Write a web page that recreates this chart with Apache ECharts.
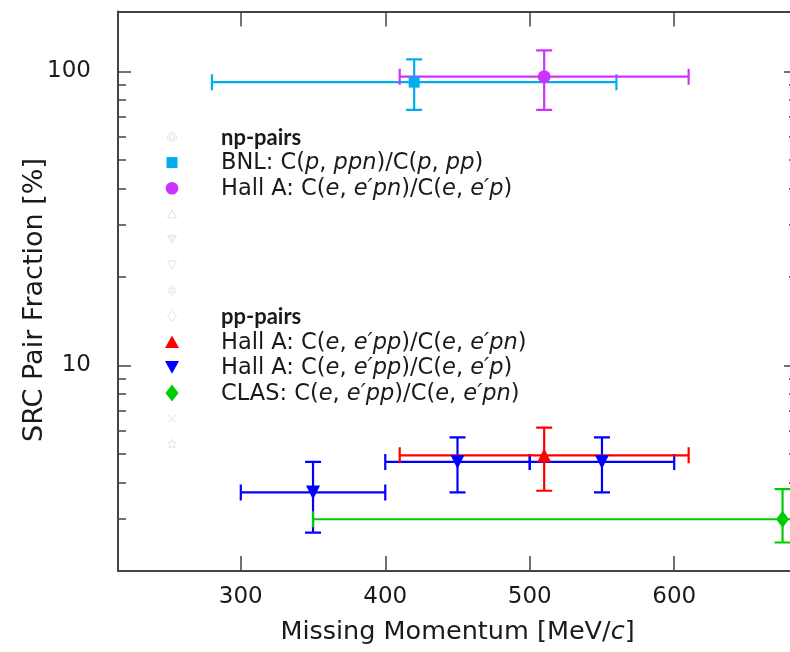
<!DOCTYPE html>
<html>
<head>
<meta charset="utf-8">
<script src="https://cdn.jsdelivr.net/npm/echarts@6/dist/echarts.min.js"></script>
<style>
  html, body { margin: 0; padding: 0; background: #ffffff; }
  #chart { width: 790px; height: 652px; }
</style>
</head>
<body>
<div id="chart"></div>
<script>
// SRC pair fractions (%) versus missing momentum (MeV/c), with x and y error ranges.
const bnlX = [420],  bnlY = [92],   bnlXLo = [280],  bnlXHi = [560],  bnlYLo = [74],   bnlYHi = [110];
const npX  = [510],  npY  = [96],   npXLo  = [410],  npXHi  = [610],  npYLo  = [74],   npYHi  = [118];
const ppnX = [510],  ppnY = [4.95], ppnXLo = [410],  ppnXHi = [610],  ppnYLo = [3.75], ppnYHi = [6.15];
const pppX = [350, 450, 550], pppY = [3.7, 4.7, 4.7];
const pppXLo = [300, 400, 500], pppXHi = [400, 500, 600];
const pppYLo = [2.7, 3.7, 3.7], pppYHi = [4.7, 5.7, 5.7];
const clasX = [675], clasY = [3.0], clasXLo = [350], clasXHi = [1000], clasYLo = [2.5], clasYHi = [3.8];

// Axis ticks
const xTicks = [300, 400, 500, 600];
const yMajor = [10, 100];
const yMinor = [3, 4, 5, 6, 7, 8, 9, 20, 30, 40, 50, 60, 70, 80, 90];

// Axis titles
const xTitle = 'Missing Momentum [MeV/{i|c}]';
const yTitle = 'SRC Pair Fraction [%]';

// Legend entries (rich text: {i|..} is italic, {b|..} is bold)
const legendRows = [
  { row: 0,  text: '{b|np-pairs}' },
  { row: 1,  text: 'BNL: C({i|p}, {i|ppn})/C({i|p}, {i|pp})' },
  { row: 2,  text: 'Hall A: C({i|e}, {i|e′pn})/C({i|e}, {i|e′p})' },
  { row: 7,  text: '{b|pp-pairs}' },
  { row: 8,  text: 'Hall A: C({i|e}, {i|e′pp})/C({i|e}, {i|e′pn})' },
  { row: 9,  text: 'Hall A: C({i|e}, {i|e′pp})/C({i|e}, {i|e′p})' },
  { row: 10, text: 'CLAS: C({i|e}, {i|e′pp})/C({i|e}, {i|e′pn})' }
];

const FONT = 'DejaVu Sans';
const BOLD_FONT = 'Lato';
const TXT = '#1a1a1a';
const LEG_FS = 22.5, TITLE_FS = 25.5, TICK_FS = 23;
const C_BNL = '#00AEEF', C_NP = '#CC33FF', C_PPN = '#FF0000', C_PPP = '#0000FF', C_CLAS = '#00CC00';

function rows(x, y, xl, xh, yl, yh) {
  return x.map((v, k) => [v, y[k], xl[k], xh[k], yl[k], yh[k]]);
}

function errorBars(name, color, data) {
  return {
    name: name + ' err',
    type: 'custom',
    clip: true,
    silent: true,
    data: data,
    encode: { x: 0, y: 1 },
    renderItem: function (params, api) {
      const x = api.value(0), y = api.value(1);
      const pl = api.coord([api.value(2), y]);
      const pr = api.coord([api.value(3), y]);
      const pb = api.coord([x, api.value(4)]);
      const pt = api.coord([x, api.value(5)]);
      const cap = 8;
      const st = { stroke: color, lineWidth: 2.2, fill: null };
      const seg = (x1, y1, x2, y2) => ({ type: 'line', shape: { x1, y1, x2, y2 }, style: st });
      return {
        type: 'group',
        children: [
          seg(pl[0], pl[1], pr[0], pr[1]),
          seg(pb[0], pb[1], pt[0], pt[1]),
          seg(pl[0], pl[1] - cap, pl[0], pl[1] + cap),
          seg(pr[0], pr[1] - cap, pr[0], pr[1] + cap),
          seg(pb[0] - cap, pb[1], pb[0] + cap, pb[1]),
          seg(pt[0] - cap, pt[1], pt[0] + cap, pt[1])
        ]
      };
    }
  };
}

function points(name, color, x, y, symbol, size, rotate) {
  return {
    name: name,
    type: 'scatter',
    symbol: symbol,
    symbolSize: size,
    symbolRotate: rotate || 0,
    itemStyle: { color: color, opacity: 1 },
    data: x.map((v, k) => [v, y[k]])
  };
}

const axisLineStyle = { color: '#444', width: 2 };
const tickStyle = { color: '#444', width: 1.5 };

function xAxisDef(pos, showLabels) {
  return {
    type: 'value', position: pos, min: 215, max: 685,
    axisLine: { show: true, onZero: false, lineStyle: axisLineStyle },
    axisTick: { show: true, inside: true, length: 15, lineStyle: tickStyle, customValues: xTicks },
    axisLabel: { show: showLabels, customValues: xTicks, margin: 15,
                 fontFamily: FONT, fontSize: TICK_FS, color: TXT },
    splitLine: { show: false },
    name: showLabels ? xTitle : '',
    nameLocation: 'middle', nameGap: 48,
    nameTextStyle: { fontFamily: FONT, fontSize: TITLE_FS, color: TXT,
                     rich: { i: { fontFamily: FONT, fontSize: TITLE_FS, fontStyle: 'italic', color: TXT } } }
  };
}

function yAxisDef(pos, ticks, len, major, labels) {
  return {
    type: 'log', logBase: 10, position: pos, min: 2, max: 160,
    axisLine: { show: major, onZero: false, lineStyle: axisLineStyle },
    axisTick: { show: true, inside: true, length: len, lineStyle: tickStyle, customValues: ticks },
    axisLabel: { show: labels, customValues: ticks, margin: 27,
                 fontFamily: FONT, fontSize: TICK_FS, color: TXT },
    splitLine: { show: false },
    minorTick: { show: false }
  };
}

// Legend drawing
const LEG_MX = 172, LEG_TX = 221, LEG_Y0 = 137, LEG_DY = 25.6;
const faint = { stroke: '#e4e4e4', fill: null, lineWidth: 1 };
function rowY(r) { return LEG_Y0 + LEG_DY * r; }
function triPts(cx, cy, s, down) {
  const h = s * 0.9;
  return down
    ? [[cx - s / 2, cy - h / 2], [cx + s / 2, cy - h / 2], [cx, cy + h / 2]]
    : [[cx - s / 2, cy + h / 2], [cx + s / 2, cy + h / 2], [cx, cy - h / 2]];
}
function diaPts(cx, cy, w, h) {
  return [[cx, cy - h / 2], [cx + w / 2, cy], [cx, cy + h / 2], [cx - w / 2, cy]];
}
function starPts(cx, cy, R, r) {
  const p = [];
  for (let k = 0; k < 10; k++) {
    const a = -Math.PI / 2 + k * Math.PI / 5, rr = k % 2 ? r : R;
    p.push([cx + rr * Math.cos(a), cy + rr * Math.sin(a)]);
  }
  return p;
}

const graphics = [];
// faint placeholder markers
graphics.push({ type: 'circle', shape: { cx: LEG_MX, cy: rowY(0), r: 4.5 }, style: faint });
graphics.push({ type: 'circle', shape: { cx: LEG_MX, cy: rowY(0), r: 2.5 }, style: faint });
graphics.push({ type: 'polygon', shape: { points: triPts(LEG_MX, rowY(3), 9, false) }, style: faint });
graphics.push({ type: 'polygon', shape: { points: triPts(LEG_MX, rowY(4), 9, true) }, style: faint });
graphics.push({ type: 'polygon', shape: { points: triPts(LEG_MX, rowY(4) - 1, 5, true) }, style: faint });
graphics.push({ type: 'polygon', shape: { points: triPts(LEG_MX, rowY(5), 9, true) }, style: faint });
graphics.push({ type: 'polygon', shape: { points: diaPts(LEG_MX, rowY(6), 9, 10) }, style: faint });
graphics.push({ type: 'circle', shape: { cx: LEG_MX, cy: rowY(6), r: 2 }, style: faint });
graphics.push({ type: 'polygon', shape: { points: diaPts(LEG_MX, rowY(7), 9, 10) }, style: faint });
graphics.push({ type: 'polyline', shape: { points: [[LEG_MX - 4, rowY(11) - 4], [LEG_MX + 4, rowY(11) + 4]] }, style: faint });
graphics.push({ type: 'polyline', shape: { points: [[LEG_MX + 4, rowY(11) - 4], [LEG_MX - 4, rowY(11) + 4]] }, style: faint });
graphics.push({ type: 'polygon', shape: { points: starPts(LEG_MX, rowY(12), 5, 2.2) }, style: faint });
// coloured markers
graphics.push({ type: 'rect', shape: { x: LEG_MX - 5.5, y: rowY(1) - 5.5, width: 11, height: 11 }, style: { fill: C_BNL } });
graphics.push({ type: 'circle', shape: { cx: LEG_MX, cy: rowY(2), r: 6.3 }, style: { fill: C_NP } });
graphics.push({ type: 'polygon', shape: { points: triPts(LEG_MX, rowY(8), 14, false) }, style: { fill: C_PPN } });
graphics.push({ type: 'polygon', shape: { points: triPts(LEG_MX, rowY(9), 14, true) }, style: { fill: C_PPP } });
graphics.push({ type: 'polygon', shape: { points: diaPts(LEG_MX, rowY(10), 13, 17) }, style: { fill: C_CLAS } });
// legend labels
legendRows.forEach(function (e) {
  graphics.push({
    type: 'text', x: LEG_TX, y: rowY(e.row) + 1,
    style: {
      text: e.text, fontFamily: FONT, fontSize: LEG_FS, fill: TXT,
      verticalAlign: 'middle', align: 'left',
      rich: {
        i: { fontFamily: FONT, fontSize: LEG_FS, fontStyle: 'italic', fill: TXT },
        b: { fontFamily: BOLD_FONT, fontSize: 22, fontWeight: 'bold', fill: TXT }
      }
    }
  });
});
// vertical axis title
graphics.push({
  type: 'text', x: 35, y: 300, rotation: Math.PI / 2,
  style: { text: yTitle, fontFamily: FONT, fontSize: 27, fill: TXT,
           align: 'center', verticalAlign: 'middle' }
});

const chart = echarts.init(document.getElementById('chart'), null, { renderer: 'canvas' });
chart.setOption({
  animation: false,
  backgroundColor: '#ffffff',
  grid: { left: 118, top: 11.5, width: 679, height: 559.5, containLabel: false, outerBoundsMode: 'none' },
  xAxis: [xAxisDef('bottom', true), xAxisDef('top', false)],
  yAxis: [
    yAxisDef('left', yMajor, 13, true, true),
    yAxisDef('left', yMinor, 8, false, false),
    yAxisDef('right', yMajor, 13, true, false),
    yAxisDef('right', yMinor, 8, false, false)
  ],
  series: [
    errorBars('BNL', C_BNL, rows(bnlX, bnlY, bnlXLo, bnlXHi, bnlYLo, bnlYHi)),
    points('BNL', C_BNL, bnlX, bnlY, 'rect', 11),
    errorBars('HallA np', C_NP, rows(npX, npY, npXLo, npXHi, npYLo, npYHi)),
    points('HallA np', C_NP, npX, npY, 'circle', 13),
    errorBars('HallA pp/p', C_PPP, rows(pppX, pppY, pppXLo, pppXHi, pppYLo, pppYHi)),
    points('HallA pp/p', C_PPP, pppX, pppY, 'triangle', 14, 180),
    errorBars('HallA pp/pn', C_PPN, rows(ppnX, ppnY, ppnXLo, ppnXHi, ppnYLo, ppnYHi)),
    points('HallA pp/pn', C_PPN, ppnX, ppnY, 'triangle', 14),
    errorBars('CLAS', C_CLAS, rows(clasX, clasY, clasXLo, clasXHi, clasYLo, clasYHi)),
    points('CLAS', C_CLAS, clasX, clasY, 'diamond', [13, 17])
  ],
  graphic: graphics
});
</script>
</body>
</html>
